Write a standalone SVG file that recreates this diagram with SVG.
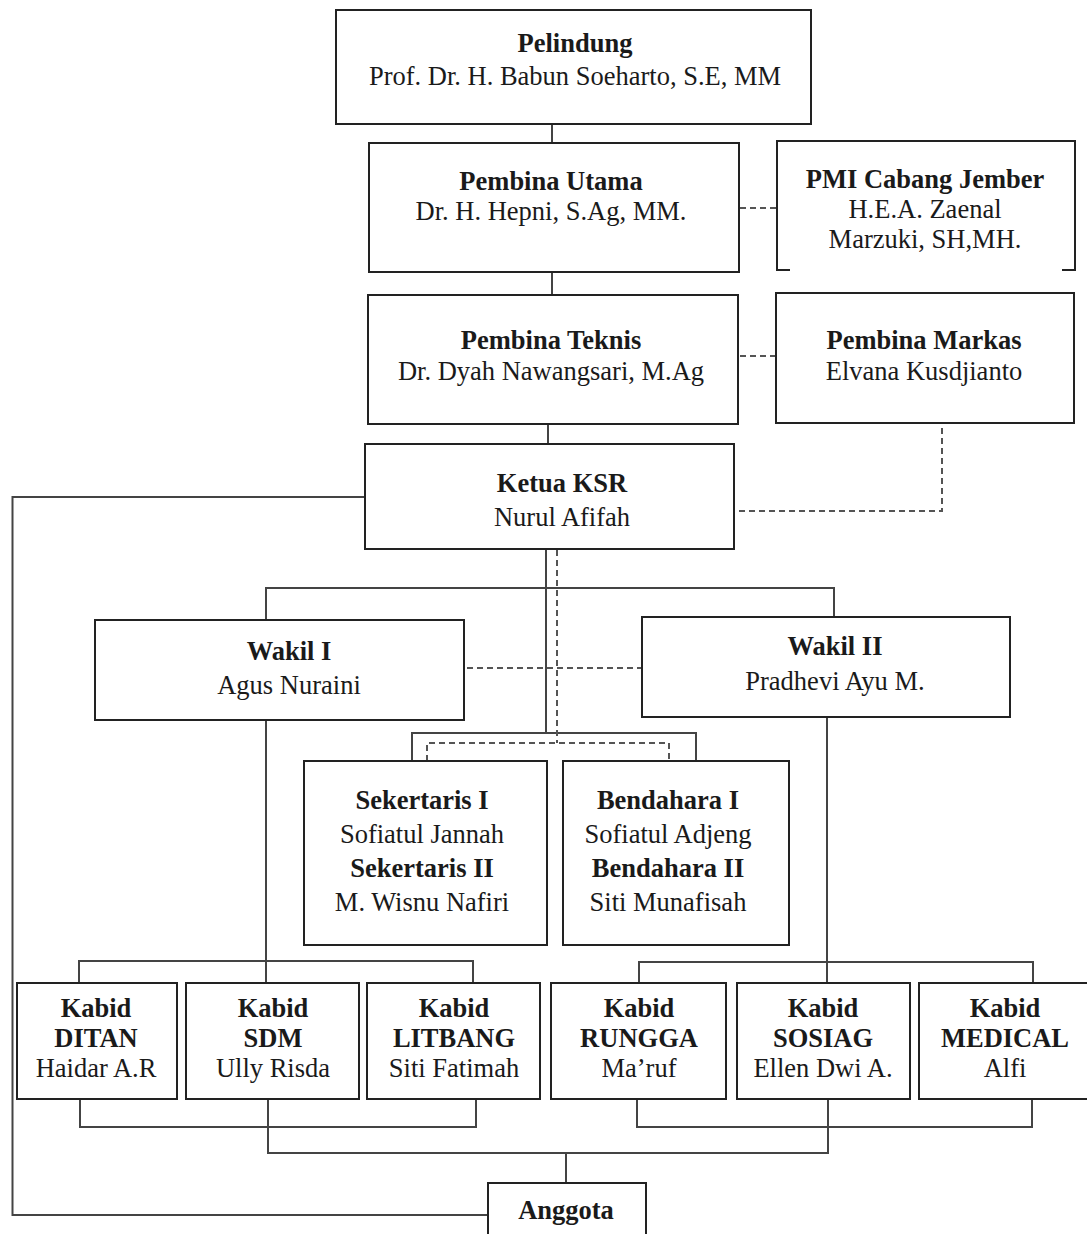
<svg xmlns="http://www.w3.org/2000/svg" width="1087" height="1234" viewBox="0 0 1087 1234">
<style>
  .box { fill: #ffffff; stroke: #222; stroke-width: 2; }
  .con { fill: none; stroke: #444; stroke-width: 2; }
  .dash { fill: none; stroke: #555; stroke-width: 2; stroke-dasharray: 6 4; }
  text { font-family: "Liberation Serif", "Times New Roman", serif; font-size: 26.5px; fill: #1a1a1a; text-anchor: middle; }
  .b { font-weight: bold; }
</style>
<rect width="1087" height="1234" fill="#ffffff"/>
<g id="connectors">
  <path class="con" d="M552,124 V143"/>
  <path class="con" d="M552,272 V295"/>
  <path class="con" d="M548,424 V444"/>
  <path class="con" d="M365,497 H12.5 V1215 H488"/>
  <path class="con" d="M546,549 V733"/>
  <path class="con" d="M266,620 V588 H834 V617"/>
  <path class="con" d="M412,761 V733 H696 V761"/>
  <path class="con" d="M266,720 V983"/>
  <path class="con" d="M79,983 V961 H473 V983"/>
  <path class="con" d="M827,717 V983"/>
  <path class="con" d="M639,983 V962 H1033 V983"/>
  <path class="con" d="M80,1099 V1127 H476 V1099"/>
  <path class="con" d="M637,1099 V1127 H1032 V1099"/>
  <path class="con" d="M268,1099 V1153 H828 V1099"/>
  <path class="con" d="M566,1153 V1183"/>
  <path class="dash" d="M740,208 H776"/>
  <path class="dash" d="M740,356 H776"/>
  <path class="dash" d="M942,428 V511 H736"/>
  <path class="dash" d="M557,550 V743"/>
  <path class="dash" d="M467,668 H641"/>
  <path class="dash" d="M427,761 V743 H669 V761"/>
</g>
<g id="pelindung">
  <rect class="box" x="336" y="10" width="475" height="114"/>
  <text x="575" y="52" class="b">Pelindung</text>
  <text x="575" y="85">Prof. Dr. H. Babun Soeharto, S.E, MM</text>
</g>
<g id="pembina-utama">
  <rect class="box" x="369" y="143" width="370" height="129"/>
  <text x="551" y="190" class="b">Pembina Utama</text>
  <text x="551" y="220">Dr. H. Hepni, S.Ag, MM.</text>
</g>
<g id="pmi">
  <path class="box" fill="none" style="fill:none" d="M790,270 H777 V141 H1075 V270 H1062"/>
  <text x="925" y="188" class="b">PMI Cabang Jember</text>
  <text x="925" y="218">H.E.A. Zaenal</text>
  <text x="925" y="248">Marzuki, SH,MH.</text>
</g>
<g id="pembina-teknis">
  <rect class="box" x="368" y="295" width="370" height="129"/>
  <text x="551" y="349" class="b">Pembina Teknis</text>
  <text x="551" y="380">Dr. Dyah Nawangsari, M.Ag</text>
</g>
<g id="pembina-markas">
  <rect class="box" x="776" y="293" width="298" height="130"/>
  <text x="924" y="349" class="b">Pembina Markas</text>
  <text x="924" y="380">Elvana Kusdjianto</text>
</g>
<g id="ketua">
  <rect class="box" x="365" y="444" width="369" height="105"/>
  <text x="562" y="492" class="b">Ketua KSR</text>
  <text x="562" y="526">Nurul Afifah</text>
</g>
<g id="wakil1">
  <rect class="box" x="95" y="620" width="369" height="100"/>
  <text x="289" y="660" class="b">Wakil I</text>
  <text x="289" y="694">Agus Nuraini</text>
</g>
<g id="wakil2">
  <rect class="box" x="642" y="617" width="368" height="100"/>
  <text x="835" y="655" class="b">Wakil II</text>
  <text x="835" y="690">Pradhevi Ayu M.</text>
</g>
<g id="sekertaris">
  <rect class="box" x="304" y="761" width="243" height="184"/>
  <text x="422" y="809" class="b">Sekertaris I</text>
  <text x="422" y="843">Sofiatul Jannah</text>
  <text x="422" y="877" class="b">Sekertaris II</text>
  <text x="422" y="911">M. Wisnu Nafiri</text>
</g>
<g id="bendahara">
  <rect class="box" x="563" y="761" width="226" height="184"/>
  <text x="668" y="809" class="b">Bendahara I</text>
  <text x="668" y="843">Sofiatul Adjeng</text>
  <text x="668" y="877" class="b">Bendahara II</text>
  <text x="668" y="911">Siti Munafisah</text>
</g>
<g id="kabid-ditan">
  <rect class="box" x="17" y="983" width="160" height="116"/>
  <text x="96" y="1017" class="b">Kabid</text>
  <text x="96" y="1047" class="b">DITAN</text>
  <text x="96" y="1077">Haidar A.R</text>
</g>
<g id="kabid-sdm">
  <rect class="box" x="186" y="983" width="173" height="116"/>
  <text x="273" y="1017" class="b">Kabid</text>
  <text x="273" y="1047" class="b">SDM</text>
  <text x="273" y="1077">Ully Risda</text>
</g>
<g id="kabid-litbang">
  <rect class="box" x="367" y="983" width="173" height="116"/>
  <text x="454" y="1017" class="b">Kabid</text>
  <text x="454" y="1047" class="b">LITBANG</text>
  <text x="454" y="1077">Siti Fatimah</text>
</g>
<g id="kabid-rungga">
  <rect class="box" x="551" y="983" width="175" height="116"/>
  <text x="639" y="1017" class="b">Kabid</text>
  <text x="639" y="1047" class="b">RUNGGA</text>
  <text x="639" y="1077">Ma’ruf</text>
</g>
<g id="kabid-sosiag">
  <rect class="box" x="737" y="983" width="173" height="116"/>
  <text x="823" y="1017" class="b">Kabid</text>
  <text x="823" y="1047" class="b">SOSIAG</text>
  <text x="823" y="1077">Ellen Dwi A.</text>
</g>
<g id="kabid-medical">
  <rect class="box" x="919" y="983" width="180" height="116"/>
  <text x="1005" y="1017" class="b">Kabid</text>
  <text x="1005" y="1047" class="b">MEDICAL</text>
  <text x="1005" y="1077">Alfi</text>
</g>
<g id="anggota">
  <rect class="box" x="488" y="1183" width="158" height="60"/>
  <text x="566" y="1219" class="b">Anggota</text>
</g>
</svg>
